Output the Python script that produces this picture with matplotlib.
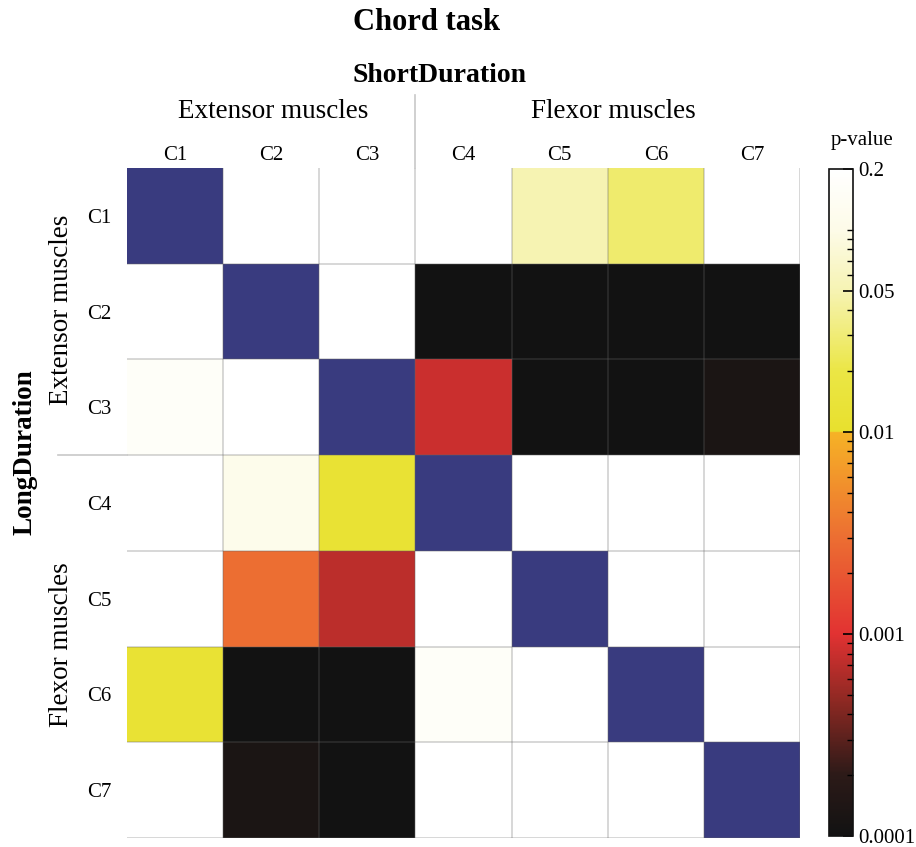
import numpy as np
import matplotlib
matplotlib.use("Agg")
import matplotlib.pyplot as plt
from matplotlib.colors import LinearSegmentedColormap, LogNorm
from matplotlib.ticker import NullFormatter

plt.rcParams['font.family'] = ['Liberation Serif', 'DejaVu Serif']

# ---- data ----
muscles = ["C1", "C2", "C3", "C4", "C5", "C6", "C7"]
# p-values; rows = LongDuration muscle, cols = ShortDuration muscle; nan = diagonal
row_C1 = [np.nan, 0.5, 0.5, 0.5, 0.05, 0.028, 0.5]
row_C2 = [0.5, np.nan, 0.5, 0.0001, 0.0001, 0.0001, 0.0001]
row_C3 = [0.16, 0.5, np.nan, 0.0008, 0.0001, 0.0001, 0.00013]
row_C4 = [0.5, 0.11, 0.012, np.nan, 0.5, 0.5, 0.5]
row_C5 = [0.5, 0.003, 0.0007, 0.5, np.nan, 0.5, 0.5]
row_C6 = [0.012, 0.0001, 0.0001, 0.16, 0.5, np.nan, 0.5]
row_C7 = [0.5, 0.00013, 0.0001, 0.5, 0.5, 0.5, np.nan]
pvals = np.array([row_C1, row_C2, row_C3, row_C4, row_C5, row_C6, row_C7], dtype=float)

cbar_major = [0.0001, 0.001, 0.01, 0.05, 0.2]
cbar_major_labels = ["0.0001", "0.001", "0.01", "0.05", "0.2"]
cbar_minor = [0.0002, 0.0003, 0.0004, 0.0005, 0.0006, 0.0007, 0.0008, 0.0009,
              0.002, 0.003, 0.004, 0.005, 0.006, 0.007, 0.008, 0.009,
              0.02, 0.03, 0.04, 0.06, 0.07, 0.08, 0.09, 0.1]

vmin, vmax = 1e-4, 0.2

def t(p):
    return (np.log10(p) - np.log10(vmin)) / (np.log10(vmax) - np.log10(vmin))

nodes = [
    (0.0, "#121212"),
    (t(2.0e-4), "#2c1a18"),
    (t(4.5e-4), "#8a2822"),
    (t(1.0e-3), "#e23232"),
    (t(3.0e-3), "#ec6e32"),
    (t(0.0099), "#f6b226"),
    (t(0.0101), "#e8e02e"),
    (t(0.02), "#ebe645"),
    (t(0.05), "#f6f3b2"),
    (t(0.1), "#fdfbe8"),
    (1.0, "#ffffff"),
]
cmap = LinearSegmentedColormap.from_list("pcmap", nodes, N=512)
cmap.set_over("#ffffff")
cmap.set_bad("#393b7f")
norm = LogNorm(vmin=vmin, vmax=vmax)

W, H = 916, 847
fig = plt.figure(figsize=(W / 100, H / 100), dpi=100)

def fx(px):
    return px / W

def fy(py):
    return 1 - py / H

L, R, T, B = 127, 800, 168, 838
ax = fig.add_axes([fx(L), fy(B), fx(R - L), (B - T) / H])
masked = np.ma.masked_invalid(pvals)
ax.pcolormesh(np.arange(8), np.arange(8), masked, cmap=cmap, norm=norm)
ax.set_xlim(0, 7)
ax.set_ylim(7, 0)
for s in ax.spines.values():
    s.set_visible(False)

ax.set_xticks(np.arange(7) + 0.5)
ax.set_xticklabels(muscles, fontsize=15)
ax.set_yticks(np.arange(7) + 0.5)
ax.set_yticklabels(muscles, fontsize=15)
ax.xaxis.tick_top()
ax.tick_params(axis='x', length=0, pad=2)
ax.tick_params(axis='y', length=0, pad=11.5)

# grid lines
ax.set_xticks(np.arange(1, 8), minor=True)
ax.set_yticks(np.arange(1, 8), minor=True)
ax.tick_params(which='minor', length=0)
ax.grid(which='minor', color=(0.4, 0.4, 0.4), alpha=0.3, linewidth=1.2)
ax.grid(which='major', visible=False)

# group separators extending outside
ax.plot([3, 3], [0, -0.76], color="#c8c8c8", lw=1.2, clip_on=False)
ax.plot([-0.72, 0], [3, 3], color="#c8c8c8", lw=1.2, clip_on=False)

# texts
fig.text(fx(427), fy(22), "Chord task", ha='center', va='center', fontsize=22, fontweight='bold')
fig.text(fx(440), fy(75), "ShortDuration", ha='center', va='center', fontsize=20, fontweight='bold')
fig.text(fx(273), fy(112), "Extensor muscles", ha='center', va='center', fontsize=19.5)
fig.text(fx(613), fy(112), "Flexor muscles", ha='center', va='center', fontsize=19.5)
fig.text(fx(25), fy(452), "LongDuration", ha='center', va='center', fontsize=19.5,
         fontweight='bold', rotation=90)
fig.text(fx(62), fy(310), "Extensor muscles", ha='center', va='center', fontsize=19.5, rotation=90)
fig.text(fx(62), fy(645), "Flexor muscles", ha='center', va='center', fontsize=19.5, rotation=90)
fig.text(fx(862), fy(140), "p-value", ha='center', va='center', fontsize=15)

# colorbar
cax = fig.add_axes([fx(829), fy(836), fx(24), (836 - 169) / H])
sm = matplotlib.cm.ScalarMappable(norm=norm, cmap=cmap)
cb = fig.colorbar(sm, cax=cax)
cb.outline.set_linewidth(1.2)
cb.outline.set_edgecolor("#111111")
cax.yaxis.set_ticks(cbar_major)
cax.yaxis.set_ticklabels(cbar_major_labels, fontsize=15)
cax.yaxis.set_ticks(cbar_minor, minor=True)
cax.yaxis.set_minor_formatter(NullFormatter())
cax.tick_params(which='major', direction='in', length=7, width=1.2, pad=4)
cax.tick_params(which='minor', direction='in', length=4, width=1.0)

fig.savefig("out.png", dpi=100, facecolor="white")
